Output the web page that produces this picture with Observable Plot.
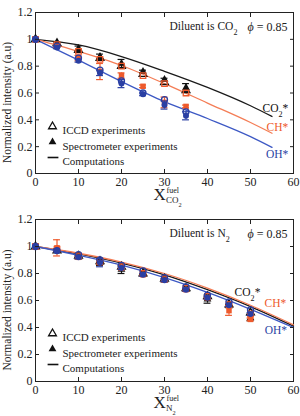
<!DOCTYPE html>
<html>
<head>
<meta charset="utf-8">
<script src="https://cdn.jsdelivr.net/npm/d3@7"></script>
<script src="https://cdn.jsdelivr.net/npm/@observablehq/plot@0.6"></script>
<style>
  body { margin: 0; background: #fff; }
  #chart { width: 300px; }
  #chart svg { display: block; background: #fff; }
  #chart svg, #chart svg text { font-family: "Liberation Serif", "DejaVu Serif", serif !important; }
</style>
</head>
<body>
<div id="chart"></div>
<script>
// Shared axis ticks
const xTicks = [0, 10, 20, 30, 40, 50, 60];
const yTicks = [0, 0.2, 0.4, 0.6, 0.8, 1, 1.2];
const yTickLabels = ["0", "0.2", "0.4", "0.6", "0.8", "1", "1.2"];

// Upper panel: CO2 as diluent
const co2X = [0, 5, 10, 15, 20, 25, 30, 35];
const co2IccdCO2 = [1, 0.97, 0.92, 0.86, 0.80, 0.74, 0.68, 0.62];
const co2SpecCO2 = [1, 0.97, 0.93, 0.87, 0.82, 0.76, 0.70, 0.64];
const co2ErrCO2  = [0, 0.01, 0.02, 0.02, 0.03, 0.01, 0.01, 0.03];
const co2IccdCH  = [1, 0.96, 0.91, 0.85, 0.80, 0.73, 0.67, 0.60];
const co2SpecCH  = [1, 0.95, 0.86, 0.76, 0.73, 0.65, 0.53, 0.50];
const co2ErrCH   = [0, 0.01, 0.02, 0.06, 0.02, 0.01, 0.04, 0.01];
const co2IccdOH  = [1, 0.95, 0.86, 0.77, 0.69, 0.60, 0.55, 0.46];
const co2SpecOH  = [1, 0.94, 0.84, 0.75, 0.67, 0.59, 0.51, 0.43];
const co2ErrOH   = [0, 0.01, 0.01, 0.02, 0.03, 0.01, 0.03, 0.03];
const co2CompX   = [0, 10, 20, 30, 40, 50, 55];
const co2CompCO2 = [1, 0.958, 0.872, 0.762, 0.642, 0.505, 0.425];
const co2CompCH  = [1, 0.91, 0.805, 0.67, 0.525, 0.38, 0.30];
const co2CompOH  = [1, 0.845, 0.685, 0.535, 0.41, 0.275, 0.195];

// Lower panel: N2 as diluent
const n2X = [0, 5, 10, 15, 20, 25, 30, 35, 40, 45, 50];
const n2IccdCO2 = [1, 0.97, 0.93, 0.89, 0.85, 0.80, 0.76, 0.69, 0.63, 0.57, 0.51];
const n2SpecCO2 = [1, 0.97, 0.92, 0.88, 0.83, 0.79, 0.75, 0.68, 0.61, 0.56, 0.47];
const n2ErrCO2  = [0, 0.01, 0.01, 0.02, 0.03, 0.01, 0.01, 0.01, 0.03, 0.01, 0.02];
const n2IccdCH  = [1, 0.98, 0.93, 0.89, 0.85, 0.80, 0.76, 0.69, 0.63, 0.57, 0.50];
const n2SpecCH  = [1, 0.99, 0.92, 0.88, 0.84, 0.79, 0.75, 0.68, 0.62, 0.525, 0.46];
const n2ErrCH   = [0, 0.06, 0.01, 0.01, 0.01, 0.01, 0.01, 0.01, 0.01, 0.035, 0.01];
const n2IccdOH  = [1, 0.97, 0.94, 0.90, 0.86, 0.82, 0.77, 0.70, 0.64, 0.59, 0.53];
const n2SpecOH  = [1, 0.97, 0.92, 0.88, 0.84, 0.79, 0.75, 0.68, 0.62, 0.565, 0.50];
const n2ErrOH   = [0, 0.01, 0.01, 0.03, 0.01, 0.01, 0.01, 0.01, 0.01, 0.01, 0.01];
const n2CompX   = [0, 10, 20, 30, 40, 50, 60];
const n2CompCO2 = [1, 0.945, 0.877, 0.79, 0.68, 0.555, 0.41];
const n2CompCH  = [1, 0.95, 0.885, 0.80, 0.692, 0.565, 0.42];
const n2CompOH  = [1, 0.935, 0.862, 0.77, 0.66, 0.535, 0.40];

const species = ["CO2*", "CH*", "OH*"];
const legendLabels = ["ICCD experiments", "Spectrometer experiments", "Computations"];

const ink = {"CO2*": "#111111", "CH*": "#ee5a2c", "OH*": "#2a3fa3"};
const lineInk = {"CO2*": "#1a1a1a", "CH*": "#f47d56", "OH*": "#3c58c4"};
const symbols = {"CO2*": "triangle", "CH*": "square", "OH*": "circle"};
const radius = {"CO2*": 2.9, "CH*": 3.1, "OH*": 3};

const serif = "Liberation Serif, DejaVu Serif, serif";

const rows = (xs, ys, es) => xs.map((x, i) => ({x, y: ys[i], e: es ? es[i] : 0}));

// A short horizontal stroke used as the "Computations" legend key
const dashSymbol = {
  draw(context, size) {
    const w = Math.sqrt(size / Math.PI) * 1.8;
    context.moveTo(-w, 0);
    context.lineTo(w, 0);
  }
};

function errorBars(data, color) {
  const d = data.filter(r => r.e > 0);
  const cap = 0.8;
  return [
    Plot.ruleX(d, {x: "x", y1: r => r.y - r.e, y2: r => r.y + r.e, stroke: color, strokeWidth: 1.2}),
    Plot.ruleY(d, {y: r => r.y + r.e, x1: r => r.x - cap, x2: r => r.x + cap, stroke: color, strokeWidth: 1.2}),
    Plot.ruleY(d, {y: r => r.y - r.e, x1: r => r.x - cap, x2: r => r.x + cap, stroke: color, strokeWidth: 1.2})
  ];
}

const note = (str, opts) => Plot.text([str], {text: d => d, fill: "#222", fontFamily: serif, ...opts});

function panel({x, iccd, spec, err, compX, comp, diluent, labelPos, marginTop}) {
  const marks = [Plot.frame({stroke: "#222"})];

  // computed emission curves
  species.forEach((s, k) => {
    marks.push(Plot.line(rows(compX, comp[k]), {x: "x", y: "y", stroke: lineInk[s], strokeWidth: 1.3, curve: "monotone-x"}));
  });

  // measured points: ICCD (open) and spectrometer (filled)
  species.forEach((s, k) => {
    const spectro = rows(x, spec[k], err[k]);
    marks.push(
      ...errorBars(spectro, ink[s]),
      Plot.dot(rows(x, iccd[k]), {x: "x", y: "y", symbol: symbols[s], r: radius[s], stroke: ink[s], fill: "none", strokeWidth: 1.3}),
      Plot.dot(spectro, {x: "x", y: "y", symbol: symbols[s], r: radius[s], fill: ink[s], stroke: "none"})
    );
  });

  // species labels at the line ends
  species.forEach((s, k) => {
    marks.push(Plot.text([s], {x: labelPos[k][0], y: labelPos[k][1], text: d => d, textAnchor: "end", fill: ink[s], fontSize: 11.5, fontFamily: serif}));
  });

  // legend
  const legendY = [114, 129.5, 145];
  marks.push(
    Plot.dot([0], {frameAnchor: "top-left", dx: 17, dy: legendY[0], symbol: "triangle", r: 2.9, stroke: "#111", fill: "none", strokeWidth: 1.3}),
    Plot.dot([0], {frameAnchor: "top-left", dx: 17, dy: legendY[1], symbol: "triangle", r: 2.9, fill: "#111"}),
    Plot.dot([0], {frameAnchor: "top-left", dx: 17.5, dy: legendY[2], symbol: dashSymbol, r: 3, stroke: "#111", strokeWidth: 1.6}),
    ...legendLabels.map((label, i) => note(label, {frameAnchor: "top-left", dx: 27, dy: legendY[i], textAnchor: "start", fontSize: 11}))
  );

  // annotations
  marks.push(
    note(`Diluent is ${diluent}`, {frameAnchor: "top-left", dx: 134, dy: 9.5, textAnchor: "start", fontSize: 11.5}),
    note("ϕ = 0.85", {frameAnchor: "top-left", dx: 212, dy: 9.5, textAnchor: "start", fontSize: 12})
  );

  // axis titles: X with superscript "fuel" and the diluent as subscript
  marks.push(
    note("X", {frameAnchor: "bottom-left", dx: 118, dy: 26, textAnchor: "start", fontSize: 17}),
    note("fuel", {frameAnchor: "bottom-left", dx: 131, dy: 19.5, textAnchor: "start", fontSize: 8}),
    note(diluent, {frameAnchor: "bottom-left", dx: 130.5, dy: 29, textAnchor: "start", fontSize: 9}),
    note("Normalized intensity (a.u)", {frameAnchor: "left", rotate: -90, dx: -28, dy: 9.5, textAnchor: "middle", fontSize: 11.5})
  );

  // axes with inward ticks on all four sides
  marks.push(
    Plot.axisX({ticks: xTicks, tickSize: -4, tickPadding: 8, label: null, tickFormat: d => String(d), fill: "#222", fontFamily: serif}),
    Plot.axisX({anchor: "top", ticks: xTicks, tickSize: -4, label: null, tickFormat: () => ""}),
    Plot.axisY({ticks: yTicks, tickSize: -4, tickPadding: 7, label: null, tickFormat: d => yTickLabels[yTicks.indexOf(d)], fill: "#222", fontFamily: serif}),
    Plot.axisY({anchor: "right", ticks: yTicks, tickSize: -4, label: null, tickFormat: () => ""})
  );

  return Plot.plot({
    width: 300,
    height: 208,
    marginLeft: 35,
    marginRight: 7,
    marginTop,
    marginBottom: 35,
    style: {fontFamily: serif, fontSize: "12px", color: "#222", background: "#fff"},
    x: {domain: [0, 60]},
    y: {domain: [0, 1.2]},
    marks
  });
}

// Set digits that follow a chemical symbol as subscripts and ϕ in italics.
function typesetFormulas(svg) {
  const ns = "http://www.w3.org/2000/svg";
  for (const t of svg.querySelectorAll("text")) {
    if (t.children.length) continue;
    const s = t.textContent;
    if (/[A-Za-z]\d/.test(s)) {
      t.textContent = "";
      s.split(/(?<=[A-Za-z])(\d+)/).forEach((part, i) => {
        if (!part) return;
        const span = document.createElementNS(ns, "tspan");
        span.textContent = part;
        if (i % 2) {
          span.setAttribute("font-size", "70%");
          span.setAttribute("baseline-shift", "sub");
        }
        t.appendChild(span);
      });
    } else if (s.startsWith("ϕ")) {
      t.textContent = "";
      const a = document.createElementNS(ns, "tspan");
      a.textContent = "ϕ";
      a.setAttribute("font-style", "italic");
      t.appendChild(a);
      t.appendChild(document.createTextNode(s.slice(1)));
    }
  }
}

const upperPanel = panel({
  x: co2X,
  iccd: [co2IccdCO2, co2IccdCH, co2IccdOH],
  spec: [co2SpecCO2, co2SpecCH, co2SpecOH],
  err: [co2ErrCO2, co2ErrCH, co2ErrOH],
  compX: co2CompX,
  comp: [co2CompCO2, co2CompCH, co2CompOH],
  diluent: "CO2",
  labelPos: [[58.8, 0.487], [58.8, 0.345], [58.8, 0.144]],
  marginTop: 12
});

const lowerPanel = panel({
  x: n2X,
  iccd: [n2IccdCO2, n2IccdCH, n2IccdOH],
  spec: [n2SpecCO2, n2SpecCH, n2SpecOH],
  err: [n2ErrCO2, n2ErrCH, n2ErrOH],
  compX: n2CompX,
  comp: [n2CompCO2, n2CompCH, n2CompOH],
  diluent: "N2",
  labelPos: [[52.3, 0.66], [58.3, 0.578], [58.5, 0.376]],
  marginTop: 11
});

const chart = document.getElementById("chart");
for (const svg of [upperPanel, lowerPanel]) {
  chart.appendChild(svg);
  typesetFormulas(svg);
}
</script>
</body>
</html>
